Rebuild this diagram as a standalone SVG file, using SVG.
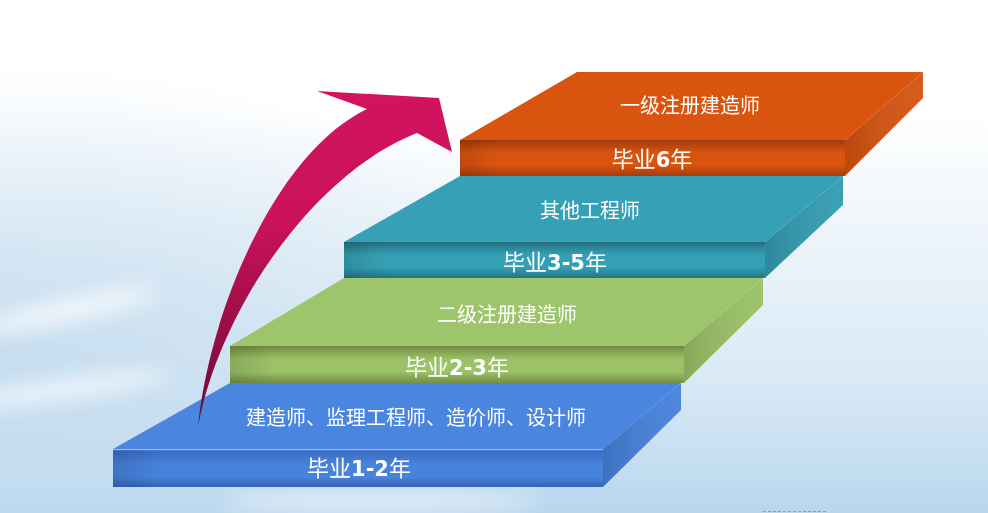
<svg xmlns="http://www.w3.org/2000/svg" width="988" height="513" viewBox="0 0 988 513">
<defs>
<linearGradient id="bg" x1="0" y1="0" x2="0" y2="1">
<stop offset="0" stop-color="#ffffff"/>
<stop offset="0.22" stop-color="#ffffff"/>
<stop offset="0.45" stop-color="#eef5fa"/>
<stop offset="0.75" stop-color="#d8e9f5"/>
<stop offset="1" stop-color="#b8d6ee"/>
</linearGradient>
<radialGradient id="bgL" cx="0" cy="0.72" r="0.6">
<stop offset="0" stop-color="#c4dcef" stop-opacity="0.9"/>
<stop offset="1" stop-color="#c4dcef" stop-opacity="0"/>
</radialGradient>
<filter id="blur" x="-50%" y="-50%" width="200%" height="200%"><feGaussianBlur stdDeviation="10"/></filter>
<linearGradient id="arrowG" x1="0" y1="90" x2="0" y2="430" gradientUnits="userSpaceOnUse">
<stop offset="0" stop-color="#d2135f"/>
<stop offset="0.4" stop-color="#c91259"/>
<stop offset="1" stop-color="#6a0a33"/>
</linearGradient>
<linearGradient id="fBlue" x1="0" y1="0" x2="0" y2="1">
<stop offset="0" stop-color="#86aeee"/>
<stop offset="0.05" stop-color="#3c6cc2"/>
<stop offset="0.4" stop-color="#4782dc"/>
<stop offset="0.75" stop-color="#4782dc"/>
<stop offset="1" stop-color="#3463b2"/>
</linearGradient>
<linearGradient id="fGreen" x1="0" y1="0" x2="0" y2="1">
<stop offset="0" stop-color="#6f8c42"/>
<stop offset="0.35" stop-color="#9bc267"/>
<stop offset="0.7" stop-color="#9bc267"/>
<stop offset="1" stop-color="#748f45"/>
</linearGradient>
<linearGradient id="fTeal" x1="0" y1="0" x2="0" y2="1">
<stop offset="0" stop-color="#24707e"/>
<stop offset="0.35" stop-color="#34a0b5"/>
<stop offset="0.7" stop-color="#34a0b5"/>
<stop offset="1" stop-color="#257482"/>
</linearGradient>
<linearGradient id="fOrange" x1="0" y1="0" x2="0" y2="1">
<stop offset="0" stop-color="#a13a0a"/>
<stop offset="0.35" stop-color="#d9540f"/>
<stop offset="0.7" stop-color="#d9540f"/>
<stop offset="1" stop-color="#a53c0b"/>
</linearGradient>
<linearGradient id="shadeL" x1="0" y1="0" x2="1" y2="0">
<stop offset="0" stop-color="#000" stop-opacity="0.12"/>
<stop offset="0.1" stop-color="#000" stop-opacity="0"/>
<stop offset="1" stop-color="#000" stop-opacity="0"/>
</linearGradient>
<linearGradient id="sideShade" x1="0" y1="0" x2="1" y2="0">
<stop offset="0" stop-color="#000" stop-opacity="0.12"/>
<stop offset="1" stop-color="#fff" stop-opacity="0.05"/>
</linearGradient>
</defs>
<style>
.lbl{fill:#ffffff;font-family:"Noto Sans CJK SC","Noto Sans",sans-serif;font-size:20px;text-anchor:middle}
.yr{fill:#ffffff;font-family:"Noto Sans CJK SC","Noto Sans",sans-serif;font-size:22px;text-anchor:middle}
.num{font-family:"DejaVu Sans","Noto Sans",sans-serif;font-weight:bold;font-size:21px}
.shade{fill:url(#shadeL)}
.side{fill:url(#sideShade)}
</style>
<rect width="988" height="513" fill="url(#bg)"/>
<rect width="988" height="513" fill="url(#bgL)"/>
<g filter="url(#blur)" fill="#ffffff" opacity="0.7">
<ellipse cx="70" cy="310" rx="90" ry="12" transform="rotate(-12 70 310)"/>
<ellipse cx="60" cy="390" rx="110" ry="10" transform="rotate(-8 60 390)"/>
<ellipse cx="380" cy="502" rx="160" ry="8"/>
</g>

<g id="step1">
<polygon points="113,449 603,449 681,383 230,383" fill="#4a86e0"/>
<polygon points="603,449 681,383 681,410 603,487" fill="#4580da"/>
<polygon points="603,449 681,383 681,410 603,487" class="side"/>
<rect x="113" y="449" width="490" height="38" fill="url(#fBlue)"/>
<rect x="113" y="449" width="490" height="38" class="shade"/>
<line x1="113" y1="449.5" x2="603" y2="449.5" stroke="#9cc0f4" stroke-width="1"/>
<text class="lbl" x="416" y="425">建造师、监理工程师、造价师、设计师</text>
<text class="yr" x="359" y="476">毕业<tspan class="num">1-2</tspan>年</text>
</g>

<g id="step2">
<polygon points="230,346 684,346 763,278 344,278" fill="#9dc56b"/>
<polygon points="684,346 763,278 763,305 684,383" fill="#98c065"/>
<polygon points="684,346 763,278 763,305 684,383" class="side"/>
<rect x="230" y="346" width="454" height="37" fill="url(#fGreen)"/>
<rect x="230" y="346" width="454" height="37" class="shade"/>
<text class="lbl" x="507" y="322">二级注册建造师</text>
<text class="yr" x="457" y="375">毕业<tspan class="num">2-3</tspan>年</text>
</g>

<g id="step3">
<polygon points="344,242 765,242 843,176 460,176" fill="#35a0b6"/>
<polygon points="765,242 843,176 843,205 765,278" fill="#329bb0"/>
<polygon points="765,242 843,176 843,205 765,278" class="side"/>
<rect x="344" y="242" width="421" height="36" fill="url(#fTeal)"/>
<rect x="344" y="242" width="421" height="36" class="shade"/>
<text class="lbl" x="590" y="218">其他工程师</text>
<text class="yr" x="555" y="270">毕业<tspan class="num">3-5</tspan>年</text>
</g>

<g id="step4">
<polygon points="460,140 845,140 923,72 577,72" fill="#d9540f"/>
<polygon points="845,140 923,72 923,98 845,176" fill="#d5520f"/>
<polygon points="845,140 923,72 923,98 845,176" class="side"/>
<rect x="460" y="140" width="385" height="36" fill="url(#fOrange)"/>
<rect x="460" y="140" width="385" height="36" class="shade"/>
<text class="lbl" x="690" y="113">一级注册建造师</text>
<text class="yr" x="652" y="167">毕业<tspan class="num">6</tspan>年</text>
</g>

<g id="connectors">
<path d="M198,427 C208,320 272,155 367,109 L317,91 L439,98 L452,152 L417,133 C310,175 218,315 198,427 Z" fill="url(#arrowG)"/>
</g>
<line x1="763" y1="511.5" x2="828" y2="511.5" stroke="#8a9ccc" stroke-width="1" stroke-dasharray="3,2"/>
</svg>
